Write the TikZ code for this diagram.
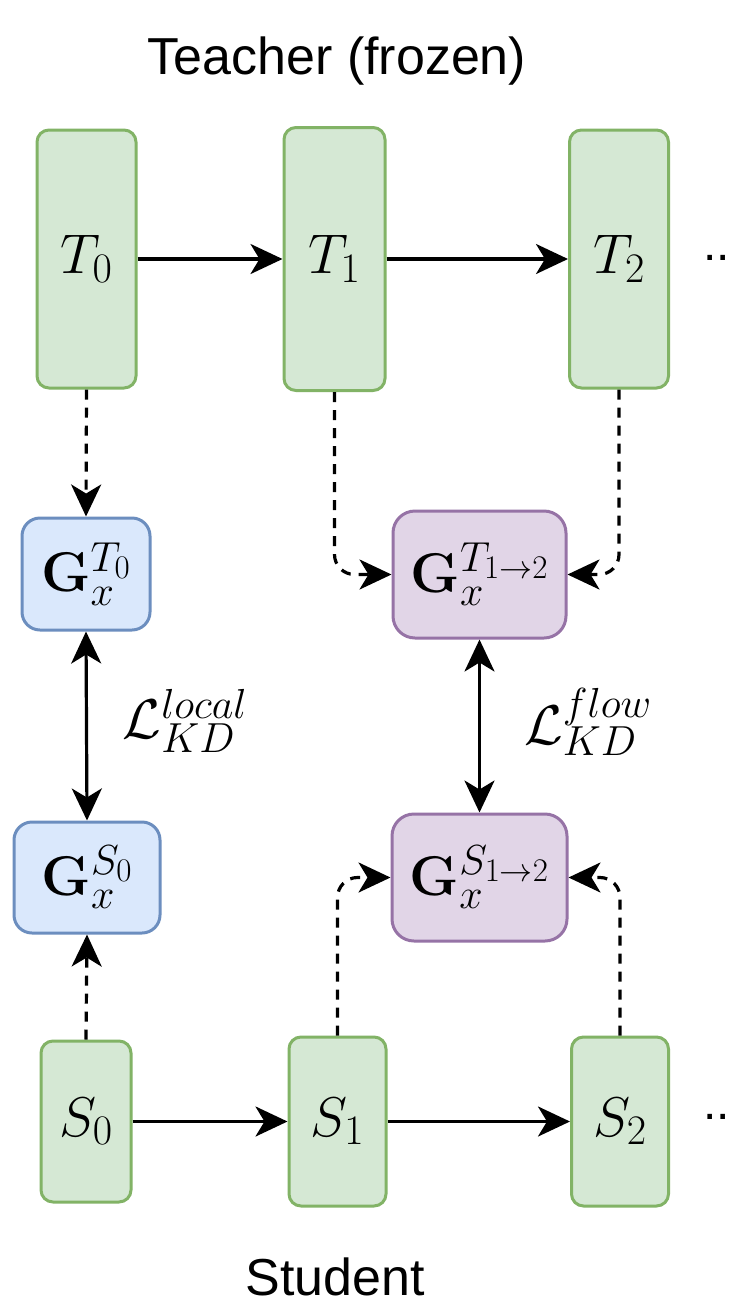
\RequirePackage{fix-cm}
\documentclass[tikz,border=0pt]{standalone}
\usepackage[no-math]{fontspec}
\newfontfamily\arialfont{Liberation Sans}
\usetikzlibrary{arrows.meta}
\DeclareMathSizes{56}{56}{42}{33}
\definecolor{gfill}{HTML}{D5E8D4}
\definecolor{gline}{HTML}{82B366}
\definecolor{bfill}{HTML}{DAE8FC}
\definecolor{bline}{HTML}{6C8EBF}
\definecolor{pfill}{HTML}{E1D5E7}
\definecolor{pline}{HTML}{9673A6}
\tikzset{
  bigmath/.style={font=\fontsize{56}{64}\selectfont},
  layerbox/.style={draw=gline, fill=gfill, line width=3pt, rounded corners=12pt, inner sep=0pt, bigmath},
  localbox/.style={draw=bline, fill=bfill, line width=3pt, rounded corners=18pt, inner sep=0pt, bigmath},
  flowbox/.style={draw=pline, fill=pfill, line width=3pt, rounded corners=22pt, inner sep=0pt, bigmath},
  tip/.tip={Stealth[length=32pt,width=30pt,inset=9pt]},
  solidarr/.style={line width=3.2pt, -tip},
  dasharr/.style={line width=3.2pt, -tip, dash pattern=on 10pt off 8pt},
  botharr/.style={line width=3.2pt, tip-tip},
  caption/.style={font=\arialfont\fontsize{52}{60}\selectfont, inner sep=0pt},
  dotsnode/.style={font=\arialfont\fontsize{48}{56}\selectfont, inner sep=0pt}
}
\begin{document}
\begin{tikzpicture}[x=1pt,y=-1pt]
\useasboundingbox (0,0) rectangle (733,1304);
\clip (0,0) rectangle (733,1304);
\fill[white] (0,0) rectangle (733,1304);

% captions
\node[caption, anchor=base] (teacher) at (337,74) {Teacher (frozen)};
\node[caption, anchor=base] (student) at (335,1295) {Student};

% teacher layers
\node[layerbox, minimum width=99pt, minimum height=258pt] (T0) at (86.5,259) {$T_0$};
\node[layerbox, minimum width=101pt, minimum height=263pt] (T1) at (334.5,259) {$T_1$};
\node[layerbox, minimum width=99pt, minimum height=258pt] (T2) at (619,259) {$T_2$};
\node[dotsnode, anchor=base west] (tdots) at (703,260) {...};

% student layers
\node[layerbox, minimum width=90pt, minimum height=161pt] (S0) at (86,1121.5) {$S_0$};
\node[layerbox, minimum width=97pt, minimum height=169pt] (S1) at (337.5,1121.5) {$S_1$};
\node[layerbox, minimum width=97pt, minimum height=169pt] (S2) at (620,1121.5) {$S_2$};
\node[dotsnode, anchor=base west] (sdots) at (703,1119) {...};

% gram boxes
\node[localbox, minimum width=128pt, minimum height=112pt] (GT0) at (86,574) {$\mathbf{G}_x^{T_0}$};
\node[localbox, minimum width=146pt, minimum height=111pt] (GS0) at (87,877.5) {$\mathbf{G}_x^{S_0}$};
\node[flowbox, minimum width=173pt, minimum height=127pt] (GT12) at (479.5,574.5) {$\mathbf{G}_x^{T_{1\rightarrow 2}}$};
\node[flowbox, minimum width=175pt, minimum height=127pt] (GS12) at (479.5,877.5) {$\mathbf{G}_x^{S_{1\rightarrow 2}}$};

% loss labels
\node[bigmath] (Llocal) at (185,721) {$\mathcal{L}_{KD}^{local}$};
\node[bigmath] (Lflow) at (588,722) {$\mathcal{L}_{KD}^{flow}$};

% forward arrows
\draw[solidarr] (T0.east) -- (T1.west);
\draw[solidarr] (T1.east) -- (T2.west);
\draw[solidarr] (S0.east) -- (S1.west);
\draw[solidarr] (S1.east) -- (S2.west);

% dashed connectors
\draw[dasharr] (T0.south) -- (GT0.north);
\draw[dasharr] (S0.north) -- (GS0.south);
\draw[dasharr, rounded corners=20pt] (T1.south) |- (GT12.west);
\draw[dasharr, rounded corners=20pt] (T2.south) |- (GT12.east);
\draw[dasharr, rounded corners=20pt] (S1.north) |- (GS12.west);
\draw[dasharr, rounded corners=20pt] (S2.north) |- (GS12.east);

% loss arrows
\draw[botharr] (GT0.south) -- (GS0.north);
\draw[botharr] (GT12.south) -- (GS12.north);
\end{tikzpicture}
\end{document}
